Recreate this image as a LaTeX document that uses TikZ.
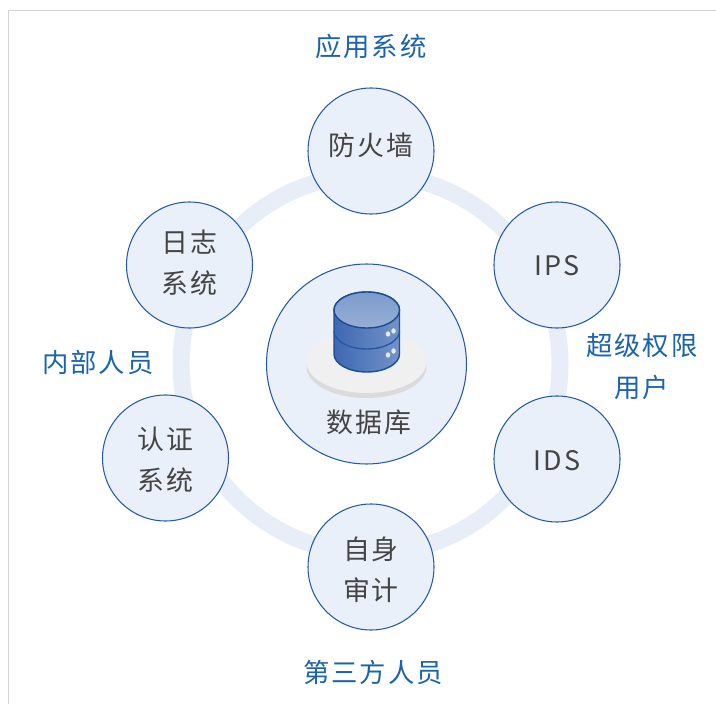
\documentclass[tikz,border=0pt]{standalone}
\usepackage{fontspec}
\setmainfont{Noto Sans CJK SC}[LetterSpace=7]
\definecolor{ringblue}{HTML}{E8EEF8}
\definecolor{discfill}{HTML}{E9F0FA}
\definecolor{discline}{HTML}{2559A8}
\definecolor{labelblue}{HTML}{1B63AD}
\definecolor{textgray}{HTML}{444444}
\definecolor{framegray}{HTML}{D4D4D4}
\definecolor{cyldark}{HTML}{3F68B2}
\definecolor{cyllight}{HTML}{7C9BCC}
\tikzset{
  disc/.style={circle,draw=discline,fill=discfill,line width=0.6pt,minimum size=2.52cm,inner sep=0pt},
  disctext/.style={text=textgray,align=center,inner sep=0pt,font=\fontsize{15.3pt}{23.2pt}\selectfont},
  sidelabel/.style={text=labelblue,align=center,font=\fontsize{15pt}{24pt}\selectfont}
}
\begin{document}
\begin{tikzpicture}
  \useasboundingbox (0,0) rectangle (14.32,14.08);
  \fill[white] (0,0) rectangle (14.32,14.08);
  \draw[framegray,line width=0.7pt] (0.17,0) -- (0.17,13.87) -- (14.32,13.87);

  \draw[ringblue,line width=0.34cm] (7.41,6.8) circle (3.79);

  \node[disc] (firewall) at (7.42,11.06) {};
  \node[disc] (ips) at (11.14,8.78) {};
  \node[disc] (ids) at (11.14,4.9) {};
  \node[disc] (audit) at (7.42,2.74) {};
  \node[disc] (auth) at (3.31,4.92) {};
  \node[disc] (log) at (3.79,8.78) {};

  \node[disctext] (firewalltext) at ([yshift=0.11cm]firewall) {防火墙};
  \node[disctext] (ipstext) at ([yshift=-0.02cm]ips) {IPS};
  \node[disctext] (idstext) at ([yshift=-0.04cm]ids) {IDS};
  \node[disctext] (audittext) at ([yshift=-0.06cm]audit) {自身\\审计};
  \node[disctext] (authtext) at ([yshift=-0.04cm]auth) {认证\\系统};
  \node[disctext] (logtext) at ([yshift=0.04cm]log) {日志\\系统};

  \node[disc,minimum size=4cm] (db) at (7.33,6.8) {};
  \node[disctext] (dbtext) at (7.38,5.64) {数据库};

  % platform under the cylinder
  \fill[black!14] (7.33,6.74) ellipse (1.2 and 0.62);
  \fill[black!6] (7.33,6.84) ellipse (1.2 and 0.62);

  % cylinder
  \draw[discline!85!black,line width=0.8pt,left color=cyldark,right color=cyllight!85!cyldark]
    (6.68,7.88) -- (6.68,7.0) arc (180:360:0.655 and 0.36) -- (7.99,7.88) arc (0:180:0.655 and 0.36) -- cycle;
  \draw[discline,line width=0.8pt] (6.68,7.46) arc (180:360:0.655 and 0.36);
  \draw[discline!85!black,line width=0.8pt,top color=cyllight,bottom color=cyllight!80!white]
    (7.335,7.88) ellipse (0.655 and 0.36);
  \fill[white!80!cyllight] (7.76,7.4) ellipse (0.045 and 0.055) (7.87,7.46) ellipse (0.045 and 0.055)
    (7.76,6.98) ellipse (0.045 and 0.055) (7.87,7.06) ellipse (0.045 and 0.055);

  \node[sidelabel] (apps) at (7.42,13.16) {应用系统};
  \node[sidelabel] (super) at (12.84,6.75) {超级权限\\用户};
  \node[sidelabel] (third) at (7.46,0.64) {第三方人员};
  \node[sidelabel] (staff) at (1.96,6.84) {内部人员};
\end{tikzpicture}
\end{document}
